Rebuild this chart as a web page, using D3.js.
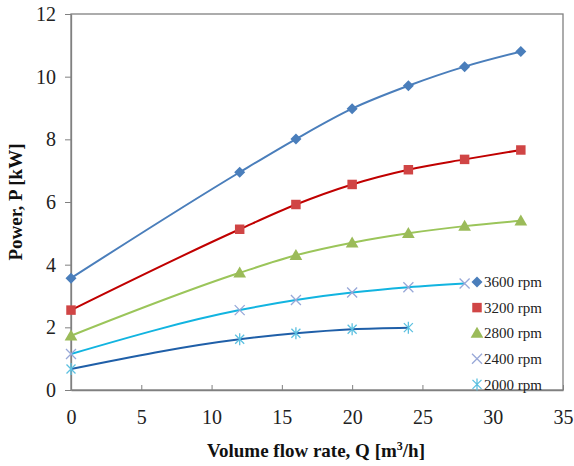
<!DOCTYPE html>
<html><head><meta charset="utf-8">
<script src="https://cdn.jsdelivr.net/npm/d3@7"></script>
<style>body{margin:0;background:#fff}svg{display:block}</style>
</head><body><svg id="c" width="574" height="466"></svg>
<script>
const flow3600 = [0, 12, 16, 20, 24, 28, 32];
const power3600 = [3.57, 6.95, 8.01, 8.98, 9.71, 10.32, 10.80];
const flow3200 = [0, 12, 16, 20, 24, 28, 32];
const power3200 = [2.55, 5.13, 5.92, 6.56, 7.03, 7.36, 7.66];
const flow2800 = [0, 12, 16, 20, 24, 28, 32];
const power2800 = [1.73, 3.74, 4.30, 4.70, 5.00, 5.23, 5.40];
const flow2400 = [0, 12, 16, 20, 24, 28];
const power2400 = [1.15, 2.55, 2.87, 3.11, 3.28, 3.40];
const flow2000 = [0, 12, 16, 20, 24];
const power2000 = [0.67, 1.62, 1.81, 1.94, 1.99];
const seriesNames = ["3600 rpm", "3200 rpm", "2800 rpm", "2400 rpm", "2000 rpm"];
const xTicks = [0, 5, 10, 15, 20, 25, 30, 35];
const yTicks = [0, 2, 4, 6, 8, 10, 12];

const series = [
  {name: seriesNames[0], x: flow3600, y: power3600, line: "#4a7ebb", mark: "#4a7ebb", sym: "diamond"},
  {name: seriesNames[1], x: flow3200, y: power3200, line: "#c00000", mark: "#d04545", sym: "square"},
  {name: seriesNames[2], x: flow2800, y: power2800, line: "#9bc55a", mark: "#9bbb59", sym: "triangle"},
  {name: seriesNames[3], x: flow2400, y: power2400, line: "#12b4e0", mark: "#98a8d8", sym: "x"},
  {name: seriesNames[4], x: flow2000, y: power2000, line: "#1f5fa8", mark: "#5cc0e0", sym: "star"}
];

const svg = d3.select("#c");
const L = 71, R = 563, T = 14, B = 390;
const x = d3.scaleLinear().domain([0, 35]).range([L, R]);
const y = d3.scaleLinear().domain([0, 12]).range([B, T]);
const serif = "Liberation Serif";

svg.append("rect").attr("x", L).attr("y", T).attr("width", R - L).attr("height", B - T)
  .attr("fill", "none").attr("stroke", "#808080").attr("stroke-width", 1.3);

const xAxis = svg.append("g").attr("transform", `translate(0,${B})`)
  .call(d3.axisBottom(x).tickValues(xTicks).tickSizeInner(-5).tickSizeOuter(0).tickPadding(20));
const yAxis = svg.append("g").attr("transform", `translate(${L},0)`)
  .call(d3.axisLeft(y).tickValues(yTicks).tickSizeInner(6).tickSizeOuter(0).tickPadding(9));
[xAxis, yAxis].forEach(a => {
  a.attr("font-family", serif).attr("font-size", 20);
  a.select(".domain").attr("stroke", "#808080").attr("stroke-width", 1.3);
  a.selectAll(".tick line").attr("stroke", "#808080");
  a.selectAll("text").attr("fill", "#222");
});

const lineGen = d3.line().x(d => x(d[0])).y(d => y(d[1])).curve(d3.curveMonotoneX);
series.forEach(s => {
  const pts = s.x.map((v, i) => [v, s.y[i]]);
  svg.append("path").datum(pts).attr("d", lineGen).attr("fill", "none")
    .attr("stroke", s.line).attr("stroke-width", 2);
});

function drawMarker(g, sym, color, cx, cy) {
  if (sym === "diamond") {
    g.append("path").attr("d", "M0,-5.5L5.5,0L0,5.5L-5.5,0Z").attr("transform", `translate(${cx},${cy})`).attr("fill", color);
  } else if (sym === "square") {
    g.append("path").attr("d", d3.symbol(d3.symbolSquare, 90)()).attr("transform", `translate(${cx},${cy})`).attr("fill", color);
  } else if (sym === "triangle") {
    g.append("path").attr("d", d3.symbol(d3.symbolTriangle, 70)()).attr("transform", `translate(${cx},${cy + 1})`).attr("fill", color);
  } else if (sym === "x") {
    g.append("path").attr("d", "M-5,-5L5,5M-5,5L5,-5").attr("transform", `translate(${cx},${cy})`)
      .attr("stroke", color).attr("stroke-width", 1.3).attr("fill", "none");
  } else if (sym === "star") {
    g.append("path").attr("d", "M-4.5,-4.5L4.5,4.5M-4.5,4.5L4.5,-4.5M0,-6L0,6").attr("transform", `translate(${cx},${cy})`)
      .attr("stroke", color).attr("stroke-width", 1.3).attr("fill", "none");
  }
}

series.forEach(s => {
  const g = svg.append("g");
  s.x.forEach((v, i) => drawMarker(g, s.sym, s.mark, x(v), y(s.y[i])));
});

const lg = svg.append("g");
series.forEach((s, i) => {
  const ly = 282 + i * 25.6;
  drawMarker(lg, s.sym, s.mark, 477, ly);
  lg.append("text").attr("x", 484).attr("y", ly).attr("dy", "0.35em")
    .attr("font-family", serif).attr("font-size", 15).attr("fill", "#222").text(s.name);
});

const xt = svg.append("text").attr("x", 316).attr("y", 457).attr("text-anchor", "middle")
  .attr("font-family", serif).attr("font-size", 19).attr("font-weight", "bold").attr("fill", "#111");
xt.append("tspan").text("Volume flow rate, Q [m");
xt.append("tspan").attr("font-size", 12).attr("dy", -7).text("3");
xt.append("tspan").attr("dy", 7).text("/h]");

svg.append("text").attr("transform", `translate(22,202) rotate(-90)`).attr("text-anchor", "middle")
  .attr("font-family", serif).attr("font-size", 19).attr("font-weight", "bold").attr("fill", "#111")
  .text("Power, P [kW]");
</script></body></html>
